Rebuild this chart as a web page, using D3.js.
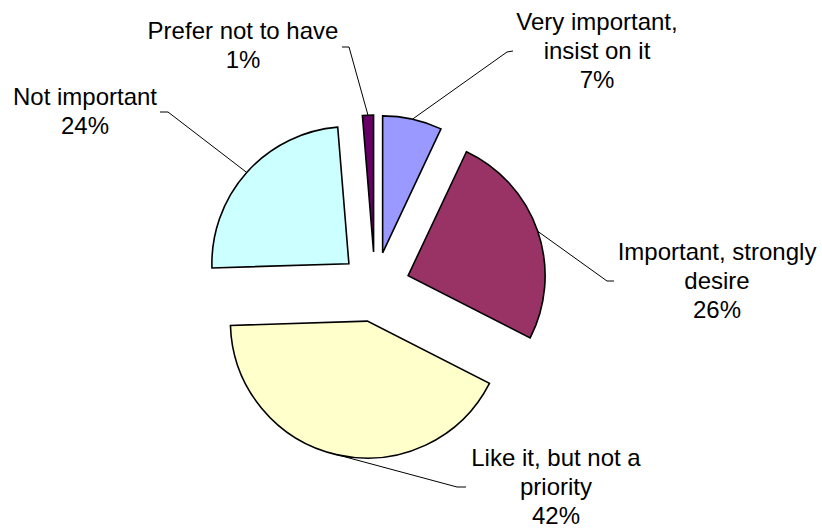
<!DOCTYPE html>
<meta charset="utf-8">
<html>
<head>
  <meta charset="utf-8">
  <title>pie</title>
</head>
<style>
  body { margin: 0; background: #fff; }
  .lbl { font-family: "Liberation Sans", Arial, sans-serif; font-size: 24px; fill: #000; }
  .leader { stroke: #000; stroke-width: 1; fill: none; }
  .slices path { stroke: #000; stroke-width: 1.6px; stroke-linejoin: miter; }
</style>
<body>
<svg width="822" height="529"></svg>
<script src="https://d3js.org/d3.v7.min.js"></script>
<script>

// data, clockwise from 12 o'clock
var categories = ["Very important, insist on it", "Important, strongly desire",
                  "Like it, but not a priority", "Not important", "Prefer not to have"];
var values = [7, 25.5, 42, 24.2, 1.3];
var colors = ["#9999FF", "#993366", "#FFFFCC", "#CCFFFF", "#660066"];
var labelLines = [
  ["Very important,", "insist on it"],
  ["Important, strongly", "desire"],
  ["Like it, but not a", "priority"],
  ["Not important"],
  ["Prefer not to have"]
];

// layout (pixel offsets from pie centre)
var cx = 375, cy = 287, radius = 137, explode = 35, lineGap = 29;
var labelPos = [
  {tx: 222,  ty: -257, ex: 132,  ey: -235, hx: 138,  hy: -236},
  {tx: 342,  ty: -27,  ex: 232,  ey: -6,   hx: 239,  hy: -6},
  {tx: 181,  ty: 179,  ex: 82,   ey: 200,  hx: 91,   hy: 200},
  {tx: -290, ty: -182, ex: -207, ey: -175, hx: -215, hy: -175},
  {tx: -132, ty: -248, ex: -26,  ey: -240, hx: -33,  hy: -240}
];

var svg = d3.select("svg");
var g = svg.append("g").attr("transform", "translate(" + cx + "," + cy + ")");

var pie = d3.pie().sort(null).value(function(d) { return d; });
var arcs = pie(values);
var arc = d3.arc().innerRadius(0).outerRadius(radius);

function offset(d, r) {
  var a = (d.startAngle + d.endAngle) / 2;
  return [Math.sin(a) * r, -Math.cos(a) * r];
}

var slices = g.append("g").attr("class", "slices");
slices.selectAll("path")
  .data(arcs)
  .enter().append("path")
    .attr("d", arc)
    .attr("fill", function(d, i) { return colors[i]; })
    .attr("transform", function(d) {
      var o = offset(d, explode);
      return "translate(" + o[0] + "," + o[1] + ")";
    });

// leader lines
g.append("g").selectAll("polyline")
  .data(arcs)
  .enter().append("polyline")
    .attr("class", "leader")
    .attr("points", function(d, i) {
      var o = offset(d, explode + radius);
      var p = labelPos[i];
      return [o, [p.ex, p.ey], [p.hx, p.hy]].map(function(q) { return q.join(","); }).join(" ");
    });

// labels
var labels = g.append("g").selectAll("text")
  .data(arcs)
  .enter().append("text")
    .attr("class", "lbl")
    .attr("text-anchor", "middle")
    .attr("x", function(d, i) { return labelPos[i].tx; })
    .attr("y", function(d, i) { return labelPos[i].ty; });

labels.each(function(d, i) {
  var t = d3.select(this);
  var lines = labelLines[i].concat([Math.round(values[i]) + "%"]);
  lines.forEach(function(s, k) {
    t.append("tspan")
      .attr("x", labelPos[i].tx)
      .attr("dy", k === 0 ? 0 : lineGap)
      .text(s);
  });
});

</script>
</body>
</html>
